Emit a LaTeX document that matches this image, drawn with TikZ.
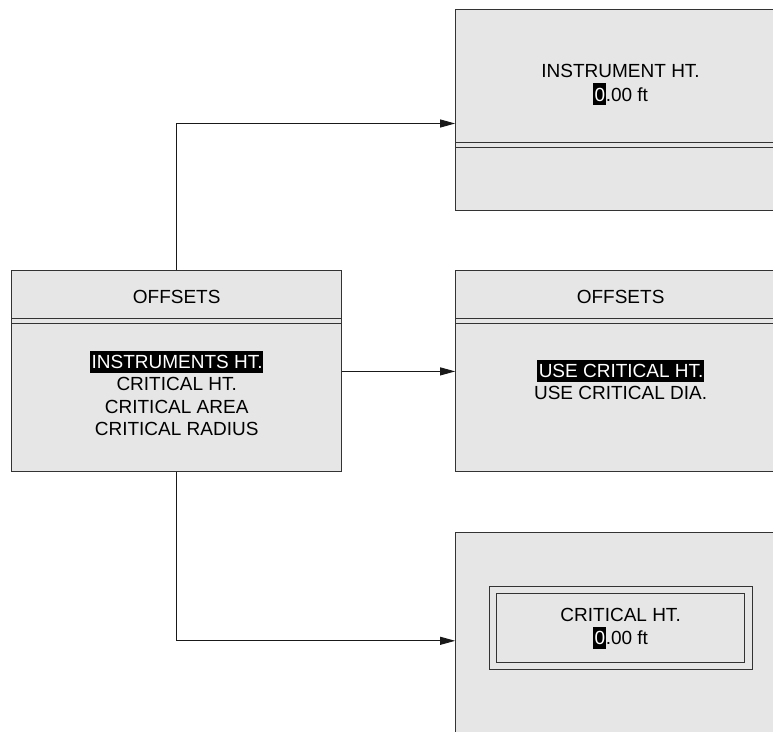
\documentclass[tikz,border=0pt]{standalone}
\usepackage{fontspec}
\setmainfont{Liberation Sans}
\usetikzlibrary{arrows.meta, positioning}
\definecolor{screengray}{RGB}{230,230,230}
\definecolor{edgegray}{RGB}{51,51,51}
\newcommand{\hilite}[1]{{\setlength{\fboxsep}{0pt}\colorbox{black}{\rule[-4.3pt]{0pt}{22pt}\kern1.5pt\textcolor{white}{#1}\kern0.5pt}}}

\begin{document}
\begin{tikzpicture}[
    x=1pt, y=-1pt,
    node distance=60pt and 113pt,
    screen/.style={
        rectangle,
        draw=edgegray,
        fill=screengray,
        line width=0.9pt,
        minimum width=330pt,
        minimum height=201pt,
        inner sep=0pt
    },
    divider/.style={
        draw=edgegray,
        line width=0.8pt
    },
    screentext/.style={
        inner sep=0pt,
        align=center,
        font=\fontsize{19pt}{22.3pt}\selectfont
    },
    valueframe/.style={
        rectangle,
        draw=edgegray,
        line width=0.8pt
    },
    arrow/.style={
        -{Triangle[length=15pt,width=8pt]},
        line width=0.9pt,
        black!90
    }
]
    \useasboundingbox (0,0) rectangle (773,731);
    \clip (0,0) rectangle (773,731);

    % screens
    \node[screen] (menu) at (176.7,371.4) {};
    \node[screen, right=of menu] (useopt) {};
    \node[screen, above=of useopt] (instht) {};
    \node[screen, below=of useopt] (critht) {};

    % header and footer lines
    \foreach \d in {48.3,52.6} {
        \draw[divider] ([yshift=-\d pt]menu.north west) -- ([yshift=-\d pt]menu.north east);
        \draw[divider] ([yshift=-\d pt]useopt.north west) -- ([yshift=-\d pt]useopt.north east);
    }
    \foreach \d in {134.3,138.7}
        \draw[divider] ([yshift=-\d pt]instht.north west) -- ([yshift=-\d pt]instht.north east);

    % texts
    \node[screentext, anchor=base] (menuhead) at ([yshift=-32.6pt]menu.north) {OFFSETS};
    \node[screentext, anchor=north] (menulist) at ([yshift=-80.3pt]menu.north)
        {\hilite{INSTRUMENTS HT.}\\CRITICAL HT.\\CRITICAL AREA\\CRITICAL RADIUS};
    \node[screentext, anchor=base] (usehead) at ([yshift=-32.6pt]useopt.north) {OFFSETS};
    \node[screentext, anchor=north] (uselist) at ([yshift=-89.3pt]useopt.north)
        {\hilite{USE CRITICAL HT.}\\USE CRITICAL DIA.};
    \node[screentext, anchor=north] (instval) at ([yshift=-55.7pt]instht.north)
        {INSTRUMENT HT.\\[1pt]\hilite{0}.00 ft};
    \node[valueframe, minimum width=263pt, minimum height=83pt] (critouter) at ([yshift=5pt]critht.center) {};
    \node[valueframe, screentext, minimum width=248pt, minimum height=69pt] (critval) at (critouter.center)
        {CRITICAL HT.\\[1pt]\hilite{0}.00 ft};

    % connectors
    \draw[arrow] (menu.north) |- ([yshift=-14pt]instht.west);
    \draw[arrow] (menu.east) -- (useopt.west);
    \draw[arrow] (menu.south) |- ([yshift=-7.5pt]critht.west);
\end{tikzpicture}
\end{document}
